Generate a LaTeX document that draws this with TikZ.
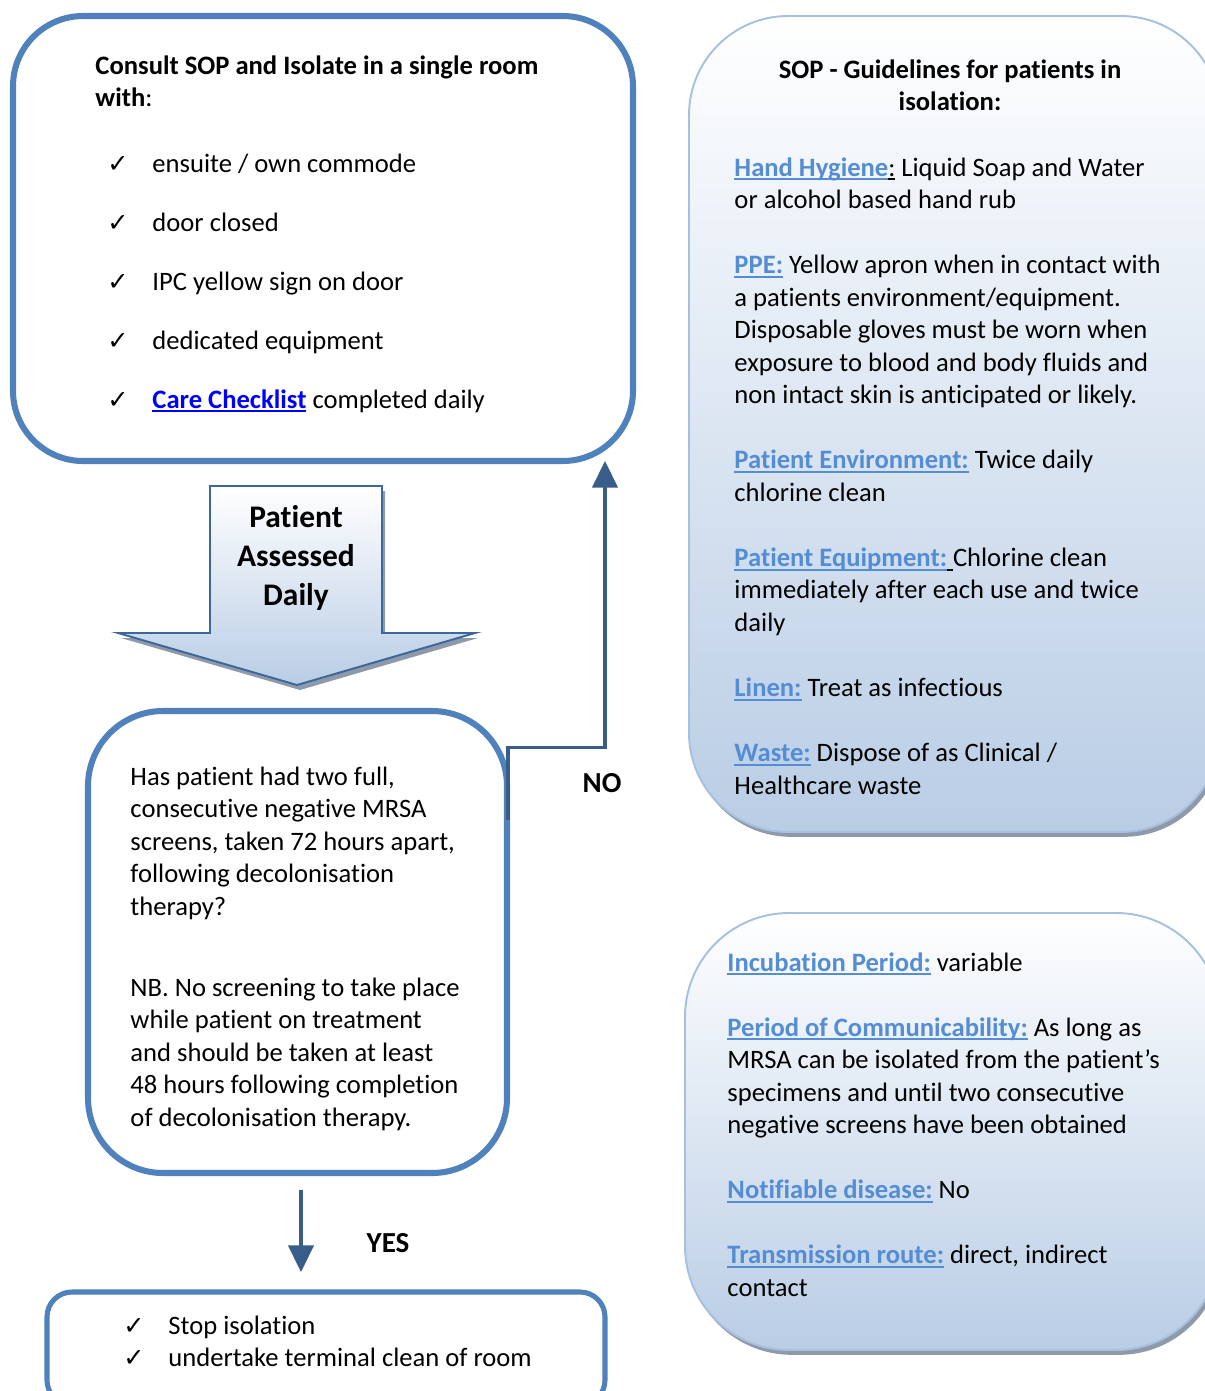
\documentclass[tikz,border=0pt]{standalone}
\usepackage{fontspec}
\setmainfont{Carlito}[Ligatures=NoCommon]
\newfontfamily\checkfont{DejaVu Sans}
\usetikzlibrary{arrows.meta,shadows}
\definecolor{boxblue}{RGB}{79,129,189}
\definecolor{flowblue}{RGB}{56,93,138}
\definecolor{arrowedge}{RGB}{60,103,155}
\definecolor{paleblue}{RGB}{185,205,229}
\definecolor{edgeblue}{RGB}{167,192,222}
\definecolor{shadowgrey}{RGB}{142,154,170}
\definecolor{headblue}{RGB}{84,141,212}
\definecolor{hyperblue}{RGB}{0,0,255}
\newdimen\pxu \pxu=0.4135pt
\newcommand{\uln}[1]{\setbox0\hbox{#1}\rlap{\rule[-1.8pt]{\wd0}{0.8pt}}\box0\relax}
\newcommand{\tick}{{\checkfont\fontsize{10.5}{12}\selectfont ✓}}
\newcommand{\tickitem}{\makebox[18.6pt][l]{\tick}}
\newcommand{\lnk}[1]{\textcolor{headblue}{\bfseries\uln{#1}}}
\newcommand{\gap}{\\[13.45pt]}
\newcommand{\nsp}{\spaceskip=0pt\xspaceskip=0pt\relax}
\frenchspacing
\begin{document}
\begin{tikzpicture}[x=0.4135pt,y=-0.4135pt]
  \tikzstyle{txt}=[font=\fontsize{11}{13.45}\selectfont,inner sep=0pt,anchor=base west,align=left,text width=200pt]
  \tikzstyle{whitebox}=[draw=boxblue,line width=2.5pt,fill=white,inner sep=0pt,outer sep=0pt]
  \tikzstyle{bluebox}=[draw=edgeblue,line width=0.8pt,top color=white,bottom color=paleblue,inner sep=0pt,outer sep=0pt,general shadow={fill=shadowgrey,shadow xshift=1.2pt,shadow yshift=-2pt}]
  \tikzstyle{flow}=[-{Triangle[width=10.5pt,length=11pt]},line width=1.25pt,draw=flowblue]
  \tikzstyle{answer}=[font=\fontsize{12}{14}\selectfont\bfseries,inner sep=0pt]
  \useasboundingbox (0,0) rectangle (1205,1391);

  % boxes
  \node[whitebox,rounded corners=29pt,minimum width=620\pxu,minimum height=445\pxu] (isolate) at (323,238.5) {};
  \node[whitebox,rounded corners=31pt,minimum width=419\pxu,minimum height=462\pxu] (question) at (297.5,942) {};
  \node[whitebox,line width=2.1pt,rounded corners=10.3pt,minimum width=558\pxu,minimum height=113\pxu] (stop) at (326,1348.5) {};
  \node[bluebox,rounded corners=41pt,minimum width=531\pxu,minimum height=816\pxu] (sop) at (954.5,424) {};
  \node[bluebox,rounded corners=43pt,minimum width=535\pxu,minimum height=437\pxu] (info) at (952.5,1131.5) {};

  % big arrow
  \fill[shadowgrey,shift={(3,5)}] (210,486) -- (382,486) -- (382,633) -- (475,633) -- (297,685) -- (118,633) -- (210,633) -- cycle;
  \path[draw=arrowedge,line width=0.8pt,top color=white,bottom color=paleblue] (210,486) -- (382,486) -- (382,633) -- (475,633) -- (297,685) -- (118,633) -- (210,633) -- cycle;
  \node[font=\fontsize{13}{16.1}\selectfont\bfseries,align=center,inner sep=0pt] (assess) at (296,558) {Patient\\Assessed\\Daily};

  % texts
  \node[txt] (isotitle) at (95,74) {\nsp\textbf{Consult SOP and Isolate in a single room}\\\textbf{with}:};
  \node[txt] (isolist) at (107,172) {\nsp\tickitem ensuite / own commode\\[10.95pt]
    \tickitem door closed\\[10.95pt]
    \tickitem IPC yellow sign on door\\[10.95pt]
    \tickitem dedicated equipment\\[10.95pt]
    \tickitem\textcolor{hyperblue}{\bfseries\uln{Care Checklist}} completed daily};
  \node[txt,text width=170pt] (qtext) at (130,785) {\nsp Has patient had two full,\\
    consecutive negative MRSA\\
    screens, taken 72 hours apart,\\
    following decolonisation\\
    therapy?\\[20pt]
    NB. No screening to take place\\
    while patient on treatment\\
    and should be taken at least\\
    48 hours following completion\\
    of decolonisation therapy.};
  \node[txt] (stoptext) at (123,1334) {\nsp\tickitem Stop isolation\\
    \tickitem undertake terminal clean of room};
  \node[txt,anchor=base,align=center] (soptitle) at (950,78) {\nsp\mbox{\textbf{SOP - Guidelines for patients in}}\\\mbox{\textbf{isolation:}}};
  \node[txt] (soptext) at (734,176) {\nsp\lnk{Hand Hygiene}\uln{:} Liquid Soap and Water\\
    or alcohol based hand rub\gap
    \lnk{PPE:} Yellow apron when in contact with\\
    a patients environment/equipment.\\
    Disposable gloves must be worn when\\
    exposure to blood and body fluids and\\
    non intact skin is anticipated or likely.\gap
    \lnk{Patient Environment:} Twice daily\\
    chlorine clean\gap
    \lnk{Patient Equipment:}\uln{\ }Chlorine clean\\
    immediately after each use and twice\\
    daily\gap
    \lnk{Linen:} Treat as infectious\gap
    \lnk{Waste:} Dispose of as Clinical /\\
    Healthcare waste};
  \node[txt] (infotext) at (727,971) {\nsp\lnk{Incubation Period:} variable\gap
    \lnk{Period of Communicability:} As long as\\
    MRSA can be isolated from the patient’s\\
    specimens and until two consecutive\\
    negative screens have been obtained\gap
    \lnk{Notifiable disease:} No\gap
    \lnk{Transmission route:} direct, indirect\\
    contact};

  % connectors
  \coordinate (nofrom) at (508,820);
  \coordinate (nobend) at (605,747);
  \draw[flow] (nofrom) |- (nobend) -- (nobend |- isolate.south);
  \node[answer] (nolabel) at (602,783) {NO};
  \coordinate (yesfrom) at (301,1190);
  \draw[flow,shorten >=20\pxu] (yesfrom) -- (yesfrom |- stop.north);
  \node[answer] (yeslabel) at (388,1243) {YES};
\end{tikzpicture}
\end{document}
